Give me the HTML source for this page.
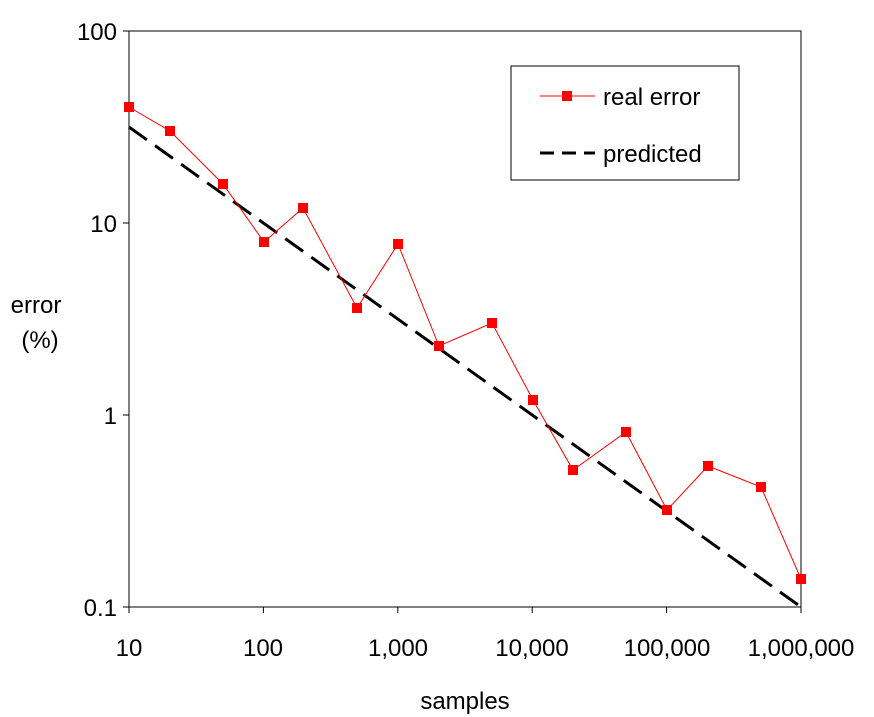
<!DOCTYPE html>
<html><head><style>body{margin:0;background:#fff}svg{display:block}text{font-family:"Liberation Sans",Arial,sans-serif;font-size:24px;fill:#000}</style></head>
<body>
<svg width="874" height="717" viewBox="0 0 874 717">
<rect x="129" y="31" width="672" height="576" fill="none" stroke="#000" stroke-width="1"/>
<g stroke="#000" stroke-width="1">
<line x1="123" y1="31" x2="129" y2="31"/><line x1="123" y1="223" x2="129" y2="223"/><line x1="123" y1="415" x2="129" y2="415"/><line x1="123" y1="607" x2="129" y2="607"/>
<line x1="129" y1="607" x2="129" y2="613"/><line x1="263.4" y1="607" x2="263.4" y2="613"/><line x1="397.8" y1="607" x2="397.8" y2="613"/><line x1="532.2" y1="607" x2="532.2" y2="613"/><line x1="666.6" y1="607" x2="666.6" y2="613"/><line x1="801" y1="607" x2="801" y2="613"/>
</g>
<g text-anchor="end">
<text x="117" y="40">100</text><text x="117" y="232">10</text><text x="117" y="424">1</text><text x="117" y="616">0.1</text>
</g>
<g text-anchor="middle">
<text x="129" y="656">10</text><text x="263" y="656">100</text><text x="398" y="656">1,000</text><text x="532" y="656">10,000</text><text x="667" y="656">100,000</text><text x="801" y="656">1,000,000</text>
<text x="465" y="709">samples</text>
<text x="36" y="313">error</text><text x="40" y="348">(%)</text>
</g>
<line x1="129" y1="127" x2="801" y2="607" stroke="#000" stroke-width="3" stroke-dasharray="22,10"/>
<polyline fill="none" stroke="#f00" stroke-width="1" points="129,107 170,131 223,184 264,242 303,208 357,308 398,244 439,346 492,323 533,400 573,470 626,432 667,510 708,466 761,487 801,579"/>
<g fill="#f00">
<rect x="124" y="102" width="10" height="10"/><rect x="165" y="126" width="10" height="10"/><rect x="218" y="179" width="10" height="10"/><rect x="259" y="237" width="10" height="10"/><rect x="298" y="203" width="10" height="10"/><rect x="352" y="303" width="10" height="10"/><rect x="393" y="239" width="10" height="10"/><rect x="434" y="341" width="10" height="10"/><rect x="487" y="318" width="10" height="10"/><rect x="528" y="395" width="10" height="10"/><rect x="568" y="465" width="10" height="10"/><rect x="621" y="427" width="10" height="10"/><rect x="662" y="505" width="10" height="10"/><rect x="703" y="461" width="10" height="10"/><rect x="756" y="482" width="10" height="10"/><rect x="796" y="574" width="10" height="10"/>
</g>
<rect x="511" y="66" width="228" height="114" fill="#fff" stroke="#000" stroke-width="1"/>
<line x1="540" y1="96" x2="595" y2="96" stroke="#f00" stroke-width="1"/>
<rect x="562" y="91" width="10" height="10" fill="#f00"/>
<text x="603" y="105">real error</text>
<line x1="540" y1="153" x2="595" y2="153" stroke="#000" stroke-width="3" stroke-dasharray="14,8"/>
<text x="603" y="162">predicted</text>
</svg>
</body></html>
